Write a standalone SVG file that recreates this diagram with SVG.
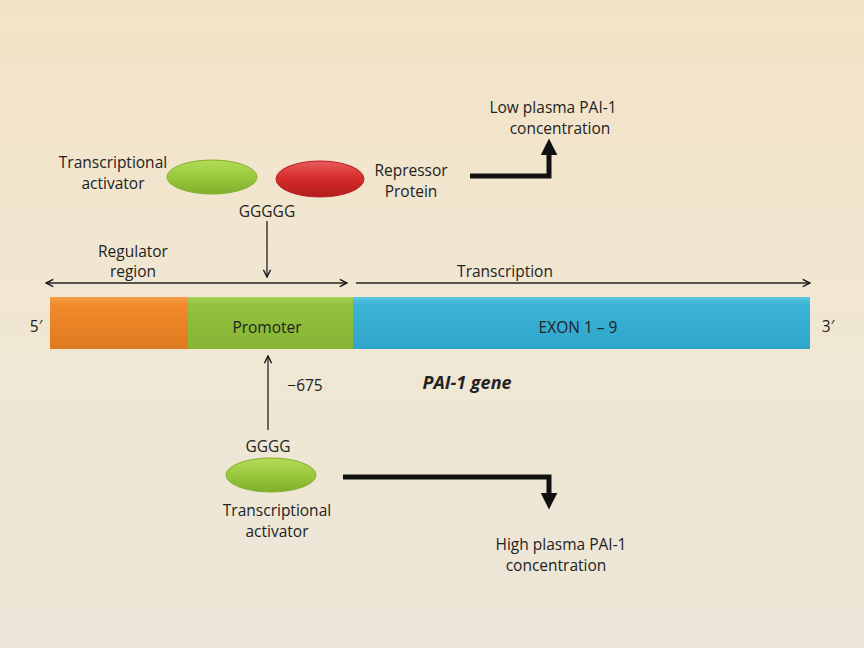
<svg xmlns="http://www.w3.org/2000/svg" width="864" height="648" viewBox="0 0 864 648">
<defs>
<linearGradient id="bg" x1="0" y1="0" x2="0" y2="1">
<stop offset="0" stop-color="#F3E3C6"/>
<stop offset="0.5" stop-color="#F0E7D3"/>
<stop offset="1" stop-color="#ECE6D8"/>
</linearGradient>
<linearGradient id="gEll" x1="0" y1="0" x2="0" y2="1">
<stop offset="0" stop-color="#B5DB5A"/>
<stop offset="0.5" stop-color="#98C93C"/>
<stop offset="1" stop-color="#7FAF2C"/>
</linearGradient>
<linearGradient id="rEll" x1="0" y1="0" x2="0" y2="1">
<stop offset="0" stop-color="#E8595A"/>
<stop offset="0.5" stop-color="#D52B2B"/>
<stop offset="1" stop-color="#B21E1E"/>
</linearGradient>
<linearGradient id="orange" x1="0" y1="0" x2="0" y2="1">
<stop offset="0" stop-color="#F7A04A"/>
<stop offset="0.15" stop-color="#F08A2A"/>
<stop offset="1" stop-color="#E07A20"/>
</linearGradient>
<linearGradient id="green" x1="0" y1="0" x2="0" y2="1">
<stop offset="0" stop-color="#A8CF5C"/>
<stop offset="0.15" stop-color="#93C13E"/>
<stop offset="1" stop-color="#86B536"/>
</linearGradient>
<linearGradient id="blue" x1="0" y1="0" x2="0" y2="1">
<stop offset="0" stop-color="#5BC7E2"/>
<stop offset="0.15" stop-color="#3BB3D6"/>
<stop offset="1" stop-color="#2EA5C9"/>
</linearGradient>
<marker id="ah" viewBox="0 0 10 10" refX="9" refY="5" markerWidth="9" markerHeight="9" markerUnits="userSpaceOnUse" orient="auto-start-reverse">
<path d="M1,1 L9,5 L1,9" fill="none" stroke="#1a1a1a" stroke-width="1.6"/>
</marker>
<marker id="bh" viewBox="0 0 10 10" refX="2" refY="5" markerWidth="17" markerHeight="17" markerUnits="userSpaceOnUse" orient="auto">
<path d="M0,0 L10,5 L0,10 Z" fill="#111"/>
</marker>
</defs>
<style>
text{font-family:"Open Sans","Liberation Sans",sans-serif;font-size:15.5px;fill:#222;text-anchor:middle}
.thin{stroke:#222;stroke-width:1.3;fill:none}
.thick{stroke:#111;stroke-width:5;fill:none}
</style>
<rect width="864" height="648" fill="url(#bg)"/>

<g id="activator-top">
<ellipse cx="212" cy="177" rx="45" ry="17" fill="url(#gEll)" stroke="#86B030" stroke-width="1"/>
<text x="113" y="168">Transcriptional</text>
<text x="113" y="189">activator</text>
</g>
<g id="repressor">
<ellipse cx="320" cy="179" rx="44" ry="18" fill="url(#rEll)" stroke="#B82222" stroke-width="1"/>
<text x="411" y="176">Repressor</text>
<text x="411" y="197">Protein</text>
</g>
<g id="ggggg"><text x="267" y="217">GGGGG</text></g>
<g id="regulator-label">
<text x="133" y="257">Regulator</text>
<text x="133" y="277">region</text>
</g>
<g id="transcription-label"><text x="505" y="277">Transcription</text></g>

<g id="gene">
<rect x="50" y="297" width="138" height="52" fill="url(#orange)"/>
<rect x="188" y="297" width="165" height="52" fill="url(#green)"/>
<rect x="353" y="297" width="457" height="52" fill="url(#blue)"/>
<text x="267" y="333">Promoter</text>
<text x="578" y="333" fill="#1d4f6a">EXON 1 – 9</text>
<text x="36" y="332">5′</text>
<text x="828" y="332">3′</text>
<text x="467" y="389" style="font-weight:bold;font-style:italic;font-size:18px">PAI-1 gene</text>
</g>

<g id="m675"><text x="305" y="391">−675</text></g>
<g id="gggg"><text x="268" y="452">GGGG</text></g>
<g id="activator-bottom">
<ellipse cx="271" cy="475" rx="45" ry="17" fill="url(#gEll)" stroke="#86B030" stroke-width="1"/>
<text x="277" y="516">Transcriptional</text>
<text x="277" y="537">activator</text>
</g>
<g id="low-label">
<text x="553" y="113">Low plasma PAI-1</text>
<text x="560" y="134">concentration</text>
</g>
<g id="high-label">
<text x="561" y="550">High plasma PAI-1</text>
<text x="556" y="571">concentration</text>
</g>

<g id="connectors">
<line class="thin" x1="267" y1="221" x2="267" y2="277" marker-end="url(#ah)"/>
<line class="thin" x1="46" y1="283" x2="347" y2="283" marker-start="url(#ah)" marker-end="url(#ah)"/>
<line class="thin" x1="356" y1="283" x2="810" y2="283" marker-end="url(#ah)"/>
<line class="thin" x1="268" y1="430" x2="268" y2="356" marker-end="url(#ah)"/>
<path class="thick" d="M470,176 H549 V152" marker-end="url(#bh)"/>
<path class="thick" d="M343,477 H549 V496" marker-end="url(#bh)"/>
</g>
</svg>
